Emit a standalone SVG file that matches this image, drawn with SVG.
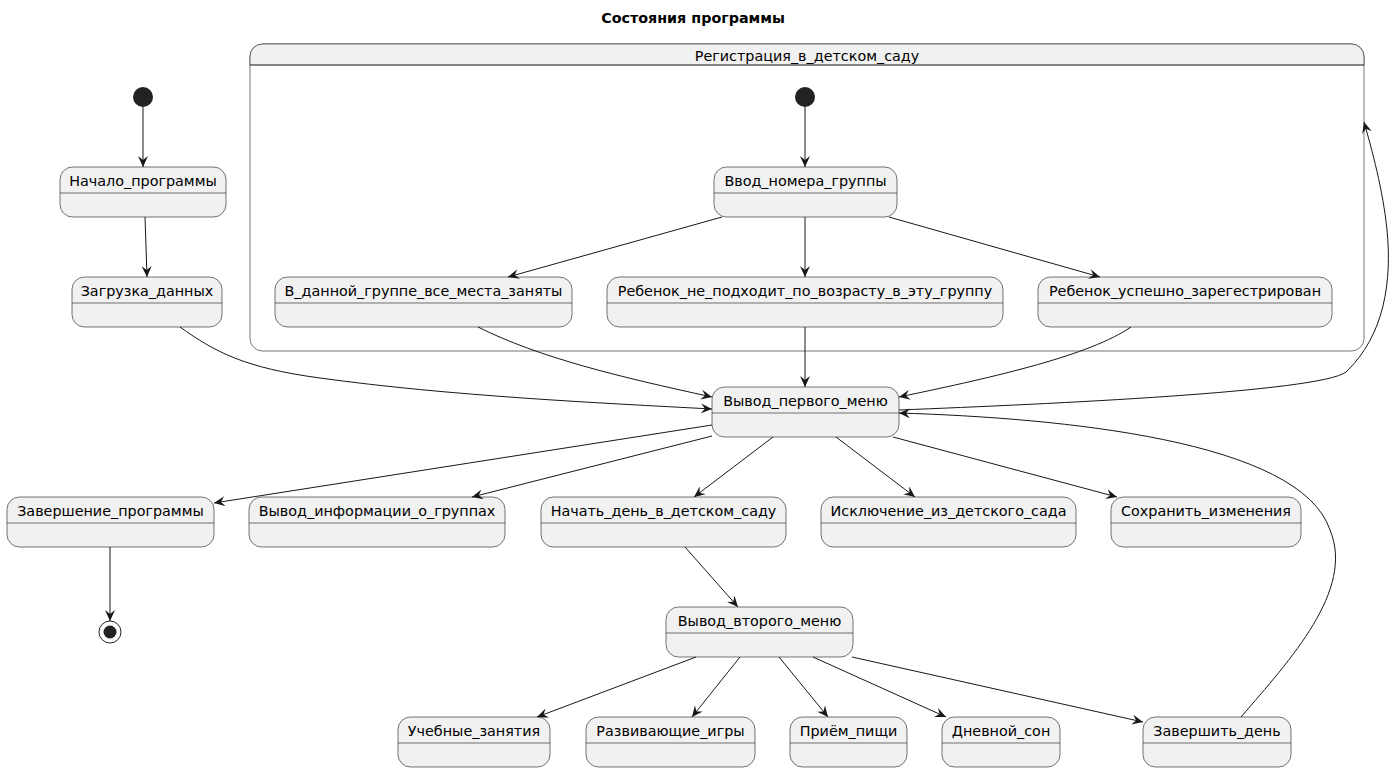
<svg xmlns="http://www.w3.org/2000/svg" width="1397" height="772" viewBox="0 0 1397 772">
<defs>
<style>
.st rect.b{fill:#F1F1F1;stroke:#181818;stroke-width:0.6}
.st line.h{stroke:#181818;stroke-width:0.6}
.t{font-family:"DejaVu Sans",sans-serif;font-size:14.35px;fill:#000;text-anchor:middle}
.title{font-family:"DejaVu Sans",sans-serif;font-size:14.3px;font-weight:bold;fill:#000;text-anchor:middle}
.e{fill:none;stroke:#181818;stroke-width:1;marker-end:url(#ah)}
</style>
<marker id="ah" viewBox="0 0 11 10" refX="11" refY="5" markerWidth="11" markerHeight="10" markerUnits="userSpaceOnUse" orient="auto">
<path d="M0,0 L11,5 L0,10 L4,5 Z" fill="#181818"/>
</marker>
</defs>
<rect width="1397" height="772" fill="#FFFFFF"/>
<text class="title" x="693" y="23">Состояния программы</text>

<g id="composite" class="st">
<rect class="b" x="250" y="44" width="1114" height="307" rx="12.5" style="fill:#FFFFFF"/>
<path d="M250,65 L250,56.5 A12.5,12.5 0 0 1 262.5,44 L1351.5,44 A12.5,12.5 0 0 1 1364,56.5 L1364,65 Z" fill="#F1F1F1" stroke="#181818" stroke-width="0.6"/>
<line class="h" x1="250" y1="65" x2="1364" y2="65"/>
<text class="t" x="807" y="61">Регистрация_в_детском_саду</text>
</g>

<g id="start1"><circle cx="143" cy="97" r="10" fill="#222222"/></g>
<g id="start2"><circle cx="805" cy="97" r="10" fill="#222222"/></g>
<g id="end"><circle cx="110" cy="632" r="11" fill="none" stroke="#222222" stroke-width="1"/><circle cx="110" cy="632" r="6.5" fill="#222222"/></g>

<g id="n1" class="st"><rect class="b" x="60" y="167" width="166" height="50" rx="12.5"/><line class="h" x1="60" y1="193" x2="226" y2="193"/><text class="t" x="143" y="186">Начало_программы</text></g>
<g id="n2" class="st"><rect class="b" x="72" y="277" width="150" height="50" rx="12.5"/><line class="h" x1="72" y1="303" x2="222" y2="303"/><text class="t" x="147" y="296">Загрузка_данных</text></g>
<g id="n3" class="st"><rect class="b" x="714" y="167" width="183" height="50" rx="12.5"/><line class="h" x1="714" y1="193" x2="897" y2="193"/><text class="t" x="805.5" y="186">Ввод_номера_группы</text></g>
<g id="n4" class="st"><rect class="b" x="275" y="277" width="297" height="50" rx="12.5"/><line class="h" x1="275" y1="303" x2="572" y2="303"/><text class="t" x="423.5" y="296">В_данной_группе_все_места_заняты</text></g>
<g id="n5" class="st"><rect class="b" x="607" y="277" width="396" height="50" rx="12.5"/><line class="h" x1="607" y1="303" x2="1003" y2="303"/><text class="t" x="805" y="296">Ребенок_не_подходит_по_возрасту_в_эту_группу</text></g>
<g id="n6" class="st"><rect class="b" x="1038" y="277" width="294" height="50" rx="12.5"/><line class="h" x1="1038" y1="303" x2="1332" y2="303"/><text class="t" x="1185" y="296">Ребенок_успешно_зарегестрирован</text></g>
<g id="n7" class="st"><rect class="b" x="712" y="387" width="187" height="50" rx="12.5"/><line class="h" x1="712" y1="413" x2="899" y2="413"/><text class="t" x="805.5" y="406">Вывод_первого_меню</text></g>
<g id="n8" class="st"><rect class="b" x="7" y="497" width="207" height="50" rx="12.5"/><line class="h" x1="7" y1="523" x2="214" y2="523"/><text class="t" x="110.5" y="516">Завершение_программы</text></g>
<g id="n9" class="st"><rect class="b" x="249" y="497" width="256" height="50" rx="12.5"/><line class="h" x1="249" y1="523" x2="505" y2="523"/><text class="t" x="377" y="516">Вывод_информации_о_группах</text></g>
<g id="n10" class="st"><rect class="b" x="541" y="497" width="245" height="50" rx="12.5"/><line class="h" x1="541" y1="523" x2="786" y2="523"/><text class="t" x="663.5" y="516">Начать_день_в_детском_саду</text></g>
<g id="n11" class="st"><rect class="b" x="821" y="497" width="255" height="50" rx="12.5"/><line class="h" x1="821" y1="523" x2="1076" y2="523"/><text class="t" x="948.5" y="516">Исключение_из_детского_сада</text></g>
<g id="n12" class="st"><rect class="b" x="1111" y="497" width="190" height="50" rx="12.5"/><line class="h" x1="1111" y1="523" x2="1301" y2="523"/><text class="t" x="1206" y="516">Сохранить_изменения</text></g>
<g id="n13" class="st"><rect class="b" x="666" y="607" width="187" height="50" rx="12.5"/><line class="h" x1="666" y1="633" x2="853" y2="633"/><text class="t" x="759.5" y="626">Вывод_второго_меню</text></g>
<g id="n14" class="st"><rect class="b" x="398" y="717" width="152" height="50" rx="12.5"/><line class="h" x1="398" y1="743" x2="550" y2="743"/><text class="t" x="474" y="736">Учебные_занятия</text></g>
<g id="n15" class="st"><rect class="b" x="586" y="717" width="169" height="50" rx="12.5"/><line class="h" x1="586" y1="743" x2="755" y2="743"/><text class="t" x="670.5" y="736">Развивающие_игры</text></g>
<g id="n16" class="st"><rect class="b" x="790" y="717" width="117" height="50" rx="12.5"/><line class="h" x1="790" y1="743" x2="907" y2="743"/><text class="t" x="848.5" y="736">Приём_пищи</text></g>
<g id="n17" class="st"><rect class="b" x="942" y="717" width="118" height="50" rx="12.5"/><line class="h" x1="942" y1="743" x2="1060" y2="743"/><text class="t" x="1001" y="736">Дневной_сон</text></g>
<g id="n18" class="st"><rect class="b" x="1143" y="717" width="148" height="50" rx="12.5"/><line class="h" x1="1143" y1="743" x2="1291" y2="743"/><text class="t" x="1217" y="736">Завершить_день</text></g>

<g id="connectors">
<path class="e" d="M143,107 L143,167"/>
<path class="e" d="M145,217 L147,277"/>
<path class="e" d="M180,327 C215,352 245,368 320,378 C450,396 600,403 712,409"/>
<path class="e" d="M805,107 L805,167"/>
<path class="e" d="M722,217 L508,277"/>
<path class="e" d="M805,217 L805,277"/>
<path class="e" d="M889,217 L1100,277"/>
<path class="e" d="M478,327 C540,358 620,377 712,397"/>
<path class="e" d="M805,327 L805,387"/>
<path class="e" d="M1131,327 C1090,355 1000,376 899,397"/>
<path class="e" d="M899,410 C1050,404 1320,392 1346,372 C1385,335 1392,280 1387,230 C1383,190 1372,150 1364,122"/>
<path class="e" d="M1241,717 C1290,660 1355,590 1330,530 C1300,440 1060,418 899,413"/>
<path class="e" d="M712,425 L214,503"/>
<path class="e" d="M712,436 L472,497"/>
<path class="e" d="M773,437 L694,497"/>
<path class="e" d="M836,437 L915,497"/>
<path class="e" d="M893,437 L1117,497"/>
<path class="e" d="M110,547 L110,621"/>
<path class="e" d="M685,547 L738,607"/>
<path class="e" d="M696,657 L537,717"/>
<path class="e" d="M740,657 L692,717"/>
<path class="e" d="M779,657 L828,717"/>
<path class="e" d="M813,657 L946,717"/>
<path class="e" d="M852,657 L1143,722"/>
</g>
</svg>
